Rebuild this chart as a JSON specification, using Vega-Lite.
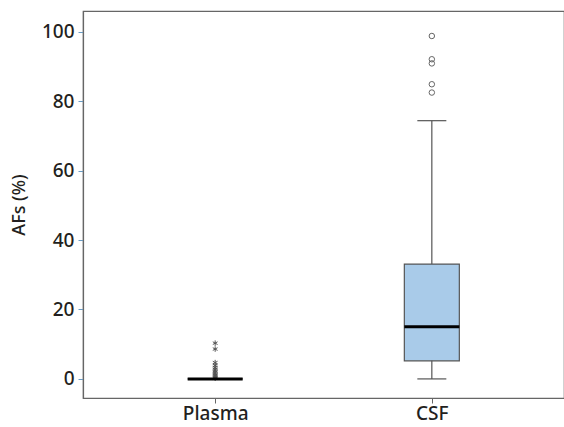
{
  "$schema": "https://vega.github.io/schema/vega-lite/v6.json",
  "autosize": "none",
  "width": 481,
  "height": 387,
  "padding": {"left": 83, "top": 11, "right": 0, "bottom": 29},
  "background": "white",
  "config": {
    "view": {"stroke": "#666666", "strokeWidth": 1.2},
    "font": "Noto Sans",
    "axis": {
      "labelFont": "Noto Sans", "titleFont": "Noto Sans",
      "labelColor": "#231f20", "titleColor": "#231f20",
      "grid": false, "domainColor": "#666666", "domainWidth": 1.2
    }
  },
  "datasets": {
    "boxes": [
      {"group": "Plasma", "lower": 0, "q1": 0, "median": 0, "q3": 0, "upper": 0},
      {"group": "CSF", "lower": 0, "q1": 5.2, "median": 15, "q3": 33.1, "upper": 74.4}
    ],
    "outliers": [
      {"group": "Plasma", "value": 10.3},
      {"group": "Plasma", "value": 8.6},
      {"group": "Plasma", "value": 4.7},
      {"group": "Plasma", "value": 3.9},
      {"group": "Plasma", "value": 3.3},
      {"group": "Plasma", "value": 2.8},
      {"group": "Plasma", "value": 2.3},
      {"group": "Plasma", "value": 1.9},
      {"group": "Plasma", "value": 1.5},
      {"group": "Plasma", "value": 1.1},
      {"group": "Plasma", "value": 0.8},
      {"group": "Plasma", "value": 0.5},
      {"group": "Plasma", "value": 0.2},
      {"group": "CSF", "value": 98.8},
      {"group": "CSF", "value": 92.1},
      {"group": "CSF", "value": 90.9},
      {"group": "CSF", "value": 84.9},
      {"group": "CSF", "value": 82.5}
    ]
  },
  "encoding": {
    "x": {
      "field": "group", "type": "nominal",
      "scale": {"type": "point", "domain": ["Plasma", "CSF"], "padding": 0.61},
      "axis": {"title": null, "labelAngle": 0, "labelFontSize": 19, "labelFontWeight": 500, "tickSize": 5, "tickColor": "#666666", "labelPadding": 1}
    }
  },
  "layer": [
    {
      "data": {"name": "boxes"},
      "mark": {"type": "rule", "stroke": "#555555", "strokeWidth": 1.2},
      "encoding": {
        "y": {
          "field": "lower", "type": "quantitative",
          "scale": {"domain": [-5.5, 106], "nice": false, "zero": false},
          "axis": {"title": "AFs (%)", "titleFontSize": 18, "titleFontWeight": 500, "titlePadding": 13, "labelFontSize": 19, "labelFontWeight": 500, "values": [0, 20, 40, 60, 80, 100], "tickSize": 5, "tickColor": "#6a9cc4", "labelPadding": 4}
        },
        "y2": {"field": "upper"}
      }
    },
    {
      "data": {"name": "boxes"},
      "mark": {"type": "bar", "size": 55, "fill": "#a9cbe9", "stroke": "#555555", "strokeWidth": 1.2},
      "encoding": {
        "y": {"field": "q1", "type": "quantitative"},
        "y2": {"field": "q3"}
      }
    },
    {
      "data": {"name": "boxes"},
      "mark": {"type": "tick", "size": 29, "thickness": 1.2, "color": "#555555", "opacity": 1},
      "encoding": {"y": {"field": "lower", "type": "quantitative"}}
    },
    {
      "data": {"name": "boxes"},
      "mark": {"type": "tick", "size": 29, "thickness": 1.2, "color": "#555555", "opacity": 1},
      "encoding": {"y": {"field": "upper", "type": "quantitative"}}
    },
    {
      "data": {"name": "outliers"},
      "transform": [{"filter": "datum.group === 'CSF'"}],
      "mark": {"type": "point", "shape": "circle", "size": 30, "filled": false, "stroke": "#666666", "strokeWidth": 1, "opacity": 1},
      "encoding": {"y": {"field": "value", "type": "quantitative"}}
    },
    {
      "data": {"name": "outliers"},
      "transform": [{"filter": "datum.group === 'Plasma'"}],
      "mark": {"type": "point", "shape": "M0,-1L0,1M-0.87,-0.5L0.87,0.5M-0.87,0.5L0.87,-0.5", "size": 30, "filled": false, "stroke": "#555555", "strokeWidth": 1, "opacity": 1},
      "encoding": {"y": {"field": "value", "type": "quantitative"}}
    },
    {
      "data": {"name": "boxes"},
      "mark": {"type": "tick", "size": 55, "thickness": 3, "color": "#000000", "opacity": 1},
      "encoding": {"y": {"field": "median", "type": "quantitative"}}
    }
  ]
}
